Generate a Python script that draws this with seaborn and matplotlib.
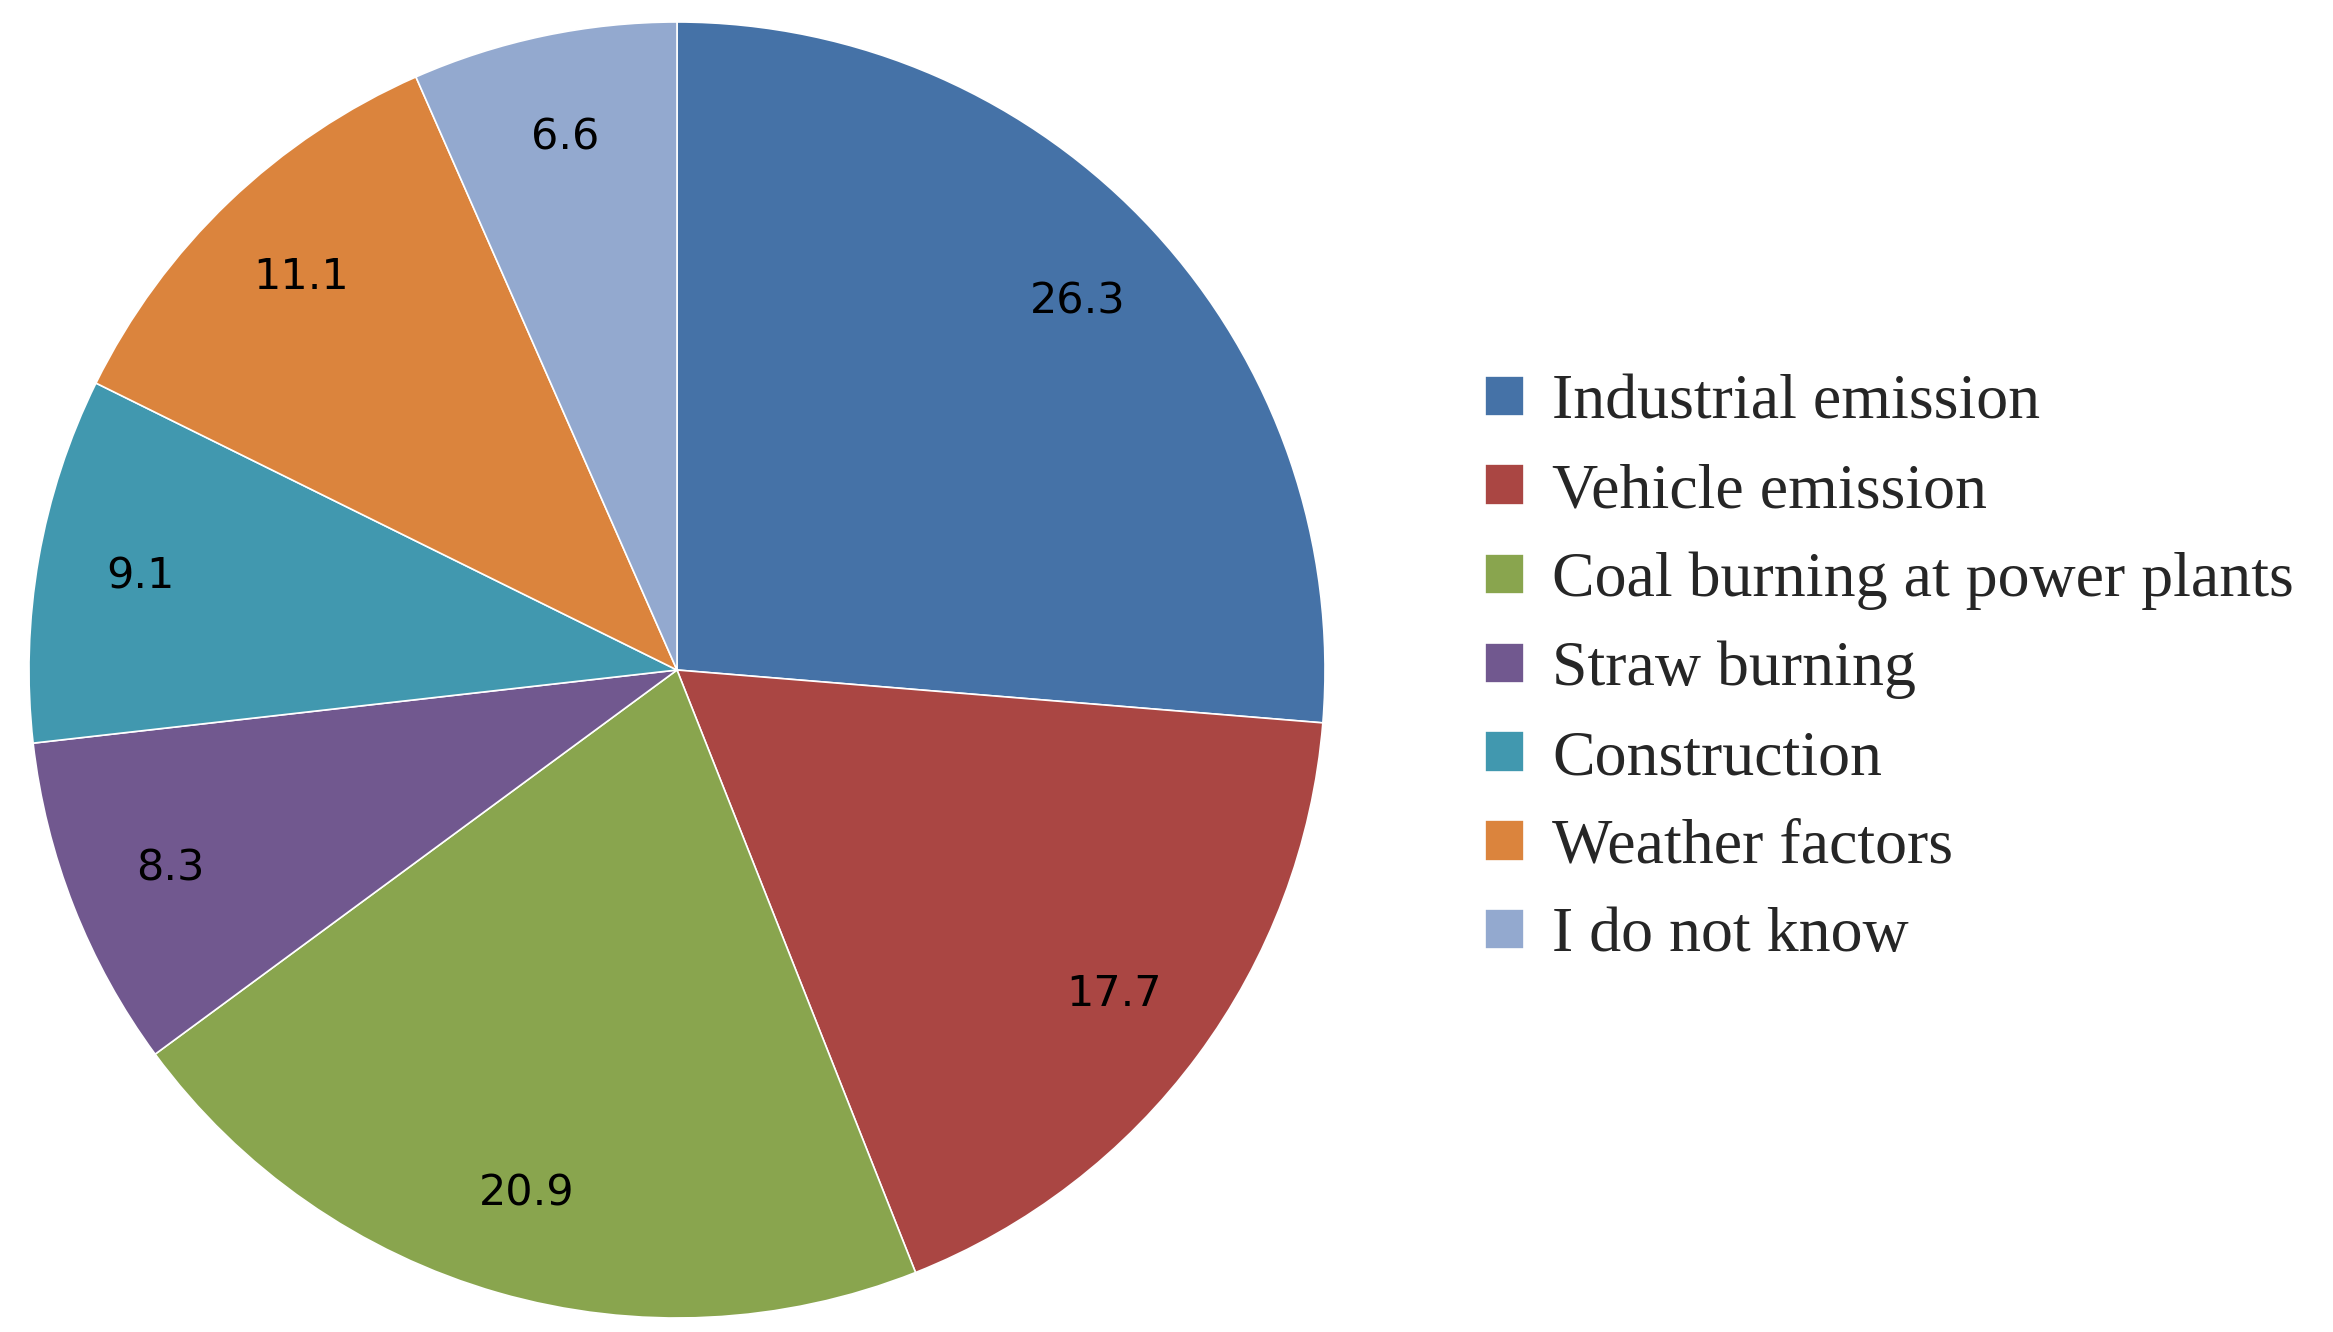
import matplotlib
matplotlib.use('Agg')
import matplotlib.pyplot as plt
import seaborn as sns

sns.set_style('white')

categories = ['Industrial emission', 'Vehicle emission', 'Coal burning at power plants',
              'Straw burning', 'Construction', 'Weather factors', 'I do not know']
values = [26.3, 17.7, 20.9, 8.3, 9.1, 11.1, 6.6]
colors = ['#4572A7', '#AA4643', '#89A54E', '#71588F', '#4198AF', '#DB843D', '#93A9CF']

fig = plt.figure(figsize=(23.33, 13.32), dpi=100)
ax = fig.add_axes([29 / 2333, 14 / 1332, 1296 / 2333, 1296 / 1332])

wedges, _, autotexts = ax.pie(values, colors=colors, startangle=90, counterclock=False,
                              autopct=lambda p: f'{p:.1f}', pctdistance=0.84,
                              wedgeprops=dict(edgecolor='white', linewidth=1.2),
                              textprops=dict(fontsize=31, family='DejaVu Sans', color='black'))
ax.set_xlim(-1, 1)
ax.set_ylim(-1, 1)

fig.legend(wedges, categories, loc='center left', bbox_to_anchor=(0.612, 0.497),
           frameon=False, handlelength=0.6, handleheight=0.6, handletextpad=0.45,
           labelspacing=0.48, prop=dict(family='Liberation Serif', size=46))

fig.savefig('out.png', dpi=100)
